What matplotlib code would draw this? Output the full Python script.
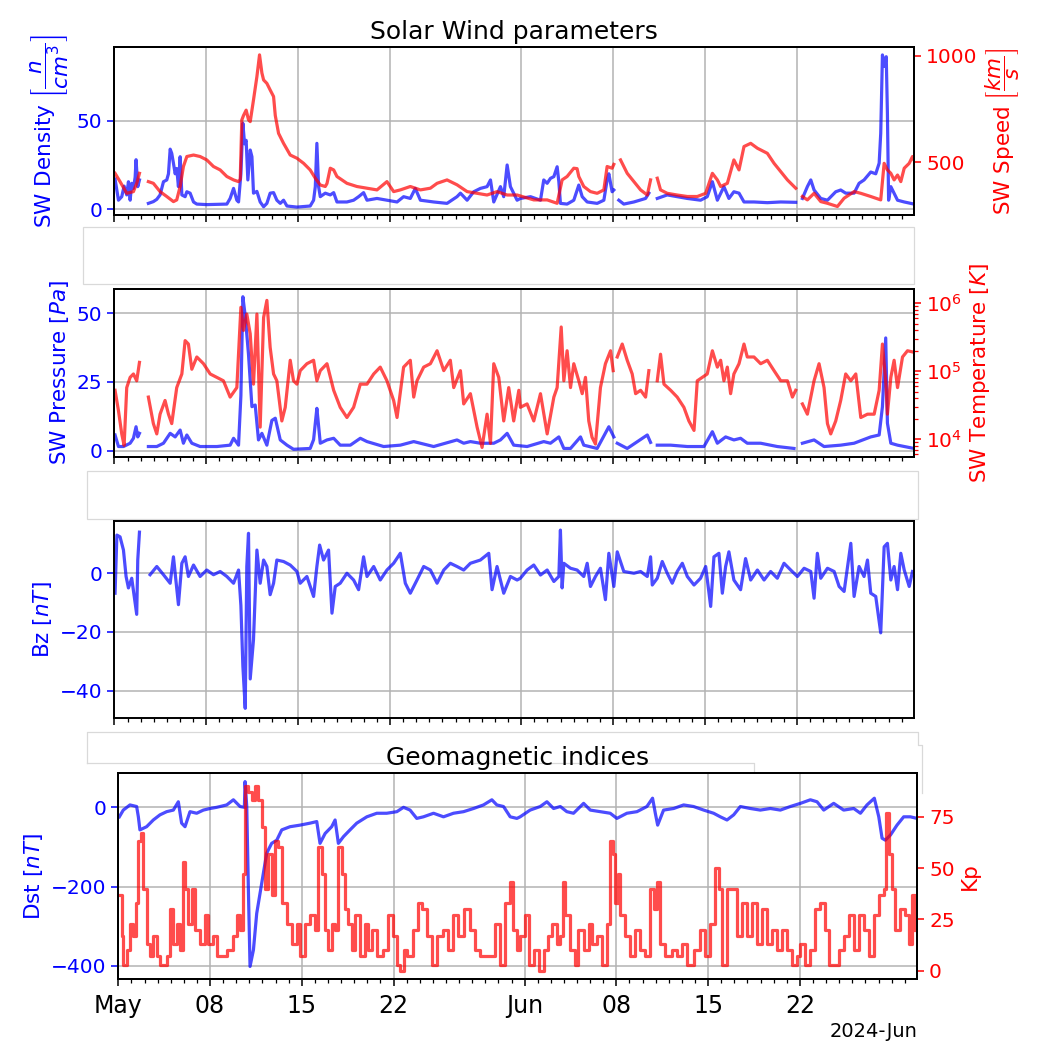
import numpy as np
import pandas as pd
import matplotlib
matplotlib.use('Agg')
import matplotlib.pyplot as plt
import matplotlib.dates as mdates
from matplotlib.lines import Line2D
from matplotlib.patches import Rectangle

# solar wind + geomagnetic summary, May-June 2024
# every series: (days since 2024-05-01, value), nan marks a data gap
nan = np.nan
T0 = pd.Timestamp('2024-05-01')
T1 = pd.Timestamp('2024-06-30 23:00')

# proton density [n/cm^3]
density = [
    (0.05, 17), (0.31, 5), (0.56, 7), (0.74, 13), (0.94, 8), (1.07, 15.5), (1.20, 5), (1.32, 14.6),
    (1.45, 11.7), (1.58, 18), (1.65, 28), (1.78, 12.7), (1.91, 16.5), (2.25, nan),
    (2.59, 3.2), (2.97, 4.2), (3.23, 5.5), (3.48, 8), (3.74, 15.5), (3.99, 16.5), (4.12, 20), (4.25, 34),
    (4.37, 31.6), (4.50, 26), (4.63, 20), (4.75, 23), (4.88, 12.7), (5.01, 29.7), (5.14, 8), (5.39, 7),
    (5.52, 9.8), (5.77, 9), (6.03, 4), (6.28, 2.8), (7.04, 2.5), (8.06, 2.7), (8.57, 2.8), (8.82, 6),
    (9.08, 11.7), (9.33, 5), (9.46, 4), (9.64, 20), (9.79, 48.7), (9.92, 37), (10.04, 39), (10.17, 16.5),
    (10.35, 33.5), (10.48, 29.7), (10.60, 9), (10.86, 10), (11.11, 4), (11.37, 1.3), (11.62, 3.2),
    (11.87, 9), (12.13, 9.3), (12.38, 5), (12.64, 3.2), (12.89, 5), (13.15, 1.7), (13.91, 1.1),
    (14.92, 1.7), (15.18, 5), (15.31, 12.7), (15.43, 37.3), (15.56, 12.7), (15.69, 7), (16.07, 9),
    (16.45, 8), (16.71, 9.3), (16.96, 4), (17.72, 4), (18.23, 5), (18.61, 7), (18.99, 9.3), (19.25, 5),
    (20.01, 6), (20.77, 5), (21.54, 4), (22.04, 7), (22.55, 6), (22.93, 11.7), (23.32, 5), (24.33, 4),
    (25.35, 3.2), (26.11, 7), (26.37, 9), (26.88, 5), (27.38, 9.8), (27.89, 11.7), (28.40, 12.7),
    (28.66, 16.5), (28.91, 4), (29.42, 12.7), (29.67, 7), (29.93, 25), (30.18, 12.7), (30.69, 5),
    (30.94, 6), (31.71, 7), (32.47, 5), (32.72, 16.5), (32.98, 14.6), (33.23, 17.4), (33.49, 18.4),
    (33.74, 24), (33.87, 15.5), (33.99, 3.2), (34.50, 2.8), (35.01, 5), (35.39, 13.6), (35.65, 7),
    (36.03, 4), (36.79, 3.2), (37.30, 5), (37.55, 16.5), (37.68, 20), (37.93, 9.8), (38.06, 10.8),
    (38.2, nan), (38.44, 5), (38.82, 2.8), (39.59, 4), (40.48, 6), (40.73, 9), (41.1, nan),
    (41.37, 6), (42.13, 8), (42.89, 7), (43.66, 6), (44.67, 5), (45.18, 7), (45.57, 15.5), (45.95, 5),
    (46.45, 12.7), (46.83, 6), (47.21, 9.8), (47.60, 9), (47.98, 4), (48.74, 4), (49.76, 3.6),
    (50.78, 4), (51.92, 3.8), (52.2, nan), (52.43, 6), (52.81, 12.7), (53.07, 16.5), (53.32, 10.8),
    (53.83, 6), (54.34, 5), (54.97, 9.8), (55.35, 10.8), (55.73, 9), (56.37, 9), (56.75, 14.6),
    (57.13, 16.5), (57.64, 21), (58.02, 20), (58.28, 26), (58.40, 43), (58.53, 87.5), (58.70, 81),
    (58.82, 86.5), (58.91, 54), (59.0, 5), (59.17, 12.7), (59.68, 5), (60.19, 4), (60.94, 2.8),
]

# bulk speed [km/s]
speed = [
    (0.05, 448), (0.43, 409), (0.94, 354), (1.45, 362), (1.70, 401), (1.91, 448), (2.25, nan),
    (2.59, 409), (2.97, 401), (3.48, 362), (3.99, 339), (4.50, 315), (4.75, 323), (5.01, 386),
    (5.26, 480), (5.52, 527), (6.03, 534), (6.53, 527), (7.04, 511), (7.55, 480), (8.06, 464),
    (8.57, 433), (9.08, 417), (9.46, 409), (9.59, 420), (9.71, 699), (9.84, 720), (10.04, 745),
    (10.22, 700), (10.35, 691), (10.60, 793), (10.86, 903), (11.06, 1005), (11.24, 920), (11.37, 887),
    (11.62, 871), (11.87, 840), (12.13, 809), (12.26, 720), (12.51, 636), (12.89, 589), (13.40, 534),
    (13.91, 519), (14.42, 495), (14.92, 464), (15.31, 425), (15.69, 393), (16.07, 386), (16.20, 400),
    (16.45, 472), (16.71, 464), (16.96, 433), (17.72, 401), (18.48, 386), (19.25, 378), (20.01, 370),
    (20.77, 409), (21.28, 362), (21.79, 370), (22.55, 386), (23.32, 370), (24.08, 378), (24.59, 401),
    (25.35, 417), (26.11, 394), (26.88, 362), (27.64, 354), (28.40, 346), (29.16, 362), (29.93, 346),
    (30.69, 346), (31.96, 323), (32.98, 323), (33.74, 307), (34.12, 417), (34.50, 433), (35.01, 472),
    (35.26, 470), (35.39, 433), (35.77, 386), (36.28, 362), (36.79, 354), (37.30, 370), (37.55, 480),
    (37.93, 472), (38.06, 490), (38.2, nan), (38.57, 511), (39.08, 448), (39.59, 409), (40.10, 370),
    (40.61, 346), (40.86, 417), (41.1, nan), (41.37, 425), (41.62, 370), (42.13, 354), (42.89, 346),
    (43.66, 339), (44.42, 339), (45.06, 354), (45.57, 448), (45.95, 417), (46.20, 386), (46.71, 401),
    (47.21, 511), (47.60, 464), (47.98, 574), (48.49, 589), (49.00, 566), (49.76, 542), (50.27, 495),
    (50.78, 456), (51.29, 417), (51.92, 378), (52.2, nan), (52.43, 339), (52.81, 323), (53.32, 354),
    (53.83, 315), (54.34, 307), (55.10, 292), (55.61, 331), (56.37, 362), (56.88, 354), (57.64, 339),
    (58.40, 323), (58.66, 495), (58.91, 464), (59.17, 448), (59.42, 417), (59.68, 440), (59.93, 409),
    (60.19, 472), (60.57, 495), (60.82, 527), (60.94, 510),
]

# dynamic pressure [Pa]
pressure = [
    (0.05, 5.7), (0.31, 1.5), (0.69, 1.5), (1.20, 2.7), (1.45, 4.5), (1.65, 8.7), (1.78, 5.0),
    (1.91, 6.3), (2.25, nan), (2.59, 1.5), (3.23, 1.5), (3.74, 2.7), (4.25, 6.3), (4.63, 5.0),
    (5.01, 7.5), (5.26, 2.7), (5.52, 5.7), (5.90, 2.7), (6.53, 1.5), (7.81, 1.5), (8.82, 2.0),
    (9.08, 4.5), (9.46, 2.0), (9.64, 20), (9.79, 56), (9.97, 49), (10.22, 35), (10.48, 16),
    (10.73, 16.6), (10.98, 3.9), (11.24, 6.3), (11.62, 2.0), (12.00, 11), (12.26, 11.8), (12.64, 3.9),
    (13.15, 2.0), (13.65, 0.5), (14.92, 0.8), (15.18, 4), (15.31, 10), (15.43, 15.4), (15.69, 2.7),
    (16.20, 3.9), (16.71, 4.5), (17.21, 2.0), (17.98, 2.0), (18.74, 4.5), (19.25, 3.3), (20.52, 1.5),
    (21.79, 2.0), (22.81, 3.3), (24.33, 1.5), (26.11, 3.9), (26.62, 2.7), (27.13, 3.3), (27.89, 2.7),
    (28.91, 2.7), (29.42, 3.9), (29.93, 6.3), (30.43, 2.0), (31.45, 1.5), (32.72, 3.3), (33.23, 2.7),
    (33.87, 5.0), (34.25, 0.8), (34.76, 0.8), (35.52, 5.0), (35.77, 2.0), (36.79, 0.8), (37.68, 8.7),
    (38.06, 5.0), (38.2, nan), (38.32, 2.7), (39.08, 0.8), (40.61, 5.7), (40.86, 3.0), (41.1, nan),
    (41.37, 2.0), (42.39, 2.0), (43.66, 1.5), (44.93, 1.5), (45.57, 6.9), (45.95, 2.7), (46.58, 5.0),
    (47.21, 3.9), (47.72, 4.5), (48.23, 2.7), (49.25, 2.7), (50.52, 1.5), (51.79, 0.8), (52.2, nan),
    (52.43, 2.7), (53.32, 3.9), (54.08, 1.5), (55.35, 2.0), (56.37, 2.7), (57.64, 5.0), (58.28, 5.7),
    (58.53, 16), (58.78, 41), (58.91, 10), (59.17, 2.7), (59.68, 2.0), (60.94, 0.8),
]

# proton temperature [K]
temperature = [
    (0.05, 52500), (0.31, 26300), (0.56, 12000), (0.74, 8130), (0.94, 57500), (1.20, 81300),
    (1.45, 91200), (1.70, 72400), (1.91, 135000), (2.25, nan), (2.59, 41700), (2.97, 17000),
    (3.23, 12000), (3.48, 23400), (3.86, 37200), (4.12, 23400), (4.37, 17000), (4.75, 57500),
    (5.14, 91200), (5.39, 282000), (5.64, 251000), (5.90, 107000), (6.28, 162000), (6.79, 129000),
    (7.30, 91200), (7.81, 81300), (8.31, 72400), (8.82, 41700), (9.33, 57500), (9.64, 871000),
    (9.84, 398000), (10.09, 692000), (10.35, 355000), (10.60, 64600), (10.86, 692000), (11.11, 15100),
    (11.37, 617000), (11.62, 1100000), (11.87, 224000), (12.13, 91200), (12.38, 72400), (12.76, 18600),
    (13.02, 29500), (13.40, 145000), (13.65, 72400), (13.91, 64600), (14.16, 102000), (14.67, 129000),
    (15.18, 145000), (15.43, 72400), (15.69, 102000), (16.20, 129000), (16.71, 52500), (17.21, 29500),
    (17.72, 20900), (18.23, 29500), (18.74, 64600), (19.25, 64600), (19.76, 91200), (20.26, 115000),
    (20.77, 72400), (21.28, 37200), (21.54, 20900), (22.04, 115000), (22.55, 145000), (22.81, 41700),
    (23.06, 72400), (23.57, 115000), (24.08, 129000), (24.59, 200000), (25.10, 102000), (25.60, 145000),
    (25.86, 57500), (26.37, 102000), (26.62, 33100), (27.13, 46800), (27.64, 15100), (28.02, 7590),
    (28.40, 23400), (28.66, 8710), (28.91, 129000), (29.29, 81300), (29.67, 18600), (30.05, 57500),
    (30.43, 18600), (30.82, 52500), (30.94, 29500), (31.45, 33100), (31.96, 18600), (32.47, 46800),
    (32.98, 12000), (33.49, 41700), (33.74, 57500), (34.05, 447000), (34.25, 72400), (34.50, 200000),
    (34.76, 57500), (35.01, 129000), (35.39, 72400), (35.65, 46800), (35.90, 81300), (36.15, 18600),
    (36.40, 10700), (36.66, 8510), (37.04, 57500), (37.42, 129000), (37.81, 200000), (38.01, 102000),
    (38.15, nan), (38.32, 162000), (38.70, 251000), (39.08, 145000), (39.46, 91200), (39.72, 46800),
    (40.10, 52500), (40.48, 41700), (40.73, 102000), (41.05, nan), (41.37, 72400), (41.62, 178000),
    (41.88, 64600), (42.39, 52500), (42.89, 41700), (43.40, 29500), (43.78, 18600), (44.17, 13500),
    (44.42, 72400), (44.80, 81300), (45.18, 91200), (45.57, 200000), (45.95, 115000), (46.20, 145000),
    (46.45, 72400), (46.71, 115000), (46.96, 46800), (47.21, 91200), (47.60, 129000), (47.98, 251000),
    (48.23, 162000), (48.74, 162000), (49.25, 129000), (49.76, 145000), (50.27, 102000), (50.78, 72400),
    (51.29, 72400), (51.67, 41700), (51.92, 52500), (52.2, nan), (52.43, 33100), (52.81, 23400),
    (53.32, 72400), (53.70, 129000), (54.08, 57500), (54.34, 17000), (54.59, 12000), (54.97, 18600),
    (55.35, 37200), (55.73, 91200), (56.12, 72400), (56.50, 91200), (56.88, 20900), (57.39, 23400),
    (57.90, 23400), (58.28, 52500), (58.53, 251000), (58.78, 72400), (58.91, 23400), (59.17, 81300),
    (59.42, 145000), (59.68, 57500), (60.06, 162000), (60.44, 200000), (60.94, 190000),
]

# IMF Bz [nT]
bz = [
    (0.05, -6.8), (0.19, 13), (0.43, 12.4), (0.69, 7.9), (0.89, -1.1), (1.07, -5), (1.32, -1.7),
    (1.58, -10), (1.70, -14), (1.78, 4.5), (1.91, 14), (2.25, nan), (2.72, -0.5), (3.23, 2.3),
    (3.74, -0.5), (4.25, -3.4), (4.50, 5.6), (4.88, -10.7), (5.14, 3.4), (5.39, 5.6), (5.64, -1.1),
    (6.03, 2.8), (6.53, -1.1), (7.04, 1.1), (7.55, -0.5), (8.06, 0.6), (8.57, -1.1), (9.08, -3.4),
    (9.46, 1.1), (9.64, -11), (9.79, -31.6), (9.97, -46), (10.09, 2.3), (10.22, 13.6), (10.35, -36),
    (10.60, -22.6), (10.86, 7.9), (11.11, -3.4), (11.37, 4.5), (11.62, 2.3), (11.87, -7.3),
    (12.13, -3.4), (12.38, 4.5), (12.89, 4.0), (13.40, 2.8), (13.91, 0.6), (14.16, -3.4),
    (14.67, -1.1), (15.18, -7.9), (15.43, 2.3), (15.64, 9.6), (15.94, 4.5), (16.32, 7.9),
    (16.58, -13.6), (16.83, -4.5), (17.21, -3.4), (17.72, 0), (18.23, -2.3), (18.61, -5.6),
    (18.99, 5.6), (19.25, -1.1), (19.76, 2.3), (20.26, -2.3), (20.77, 1.1), (21.28, 3.4), (21.79, 6.8),
    (22.17, -3.4), (22.55, -6.8), (23.06, -2.3), (23.57, 2.3), (24.08, 1.1), (24.59, -3.4),
    (25.10, 1.1), (25.60, 3.4), (26.11, 2.3), (26.62, 1.1), (27.13, 3.4), (27.89, 4.5), (28.53, 6.8),
    (28.78, -5.6), (29.16, 2.3), (29.67, -6.8), (30.18, -1.1), (30.69, -2.3), (30.94, -1.7),
    (31.45, 1.1), (31.96, 2.8), (32.47, -0.6), (32.98, 1.1), (33.49, -2.8), (33.87, -1.1),
    (33.99, 14.7), (34.12, -5), (34.25, 3.4), (34.76, 1.7), (35.26, 1.1), (35.77, -1.1), (36.03, 3.4),
    (36.28, -4.5), (36.66, -1.1), (37.04, 1.7), (37.42, -9), (37.68, 6.8), (38.06, -4.5), (38.32, 7.3),
    (38.82, 0.6), (39.59, 0), (40.10, 0.6), (40.61, -1.1), (40.86, 5.6), (40.99, -4), (41.37, -1.7),
    (41.75, 4.0), (42.13, 0), (42.51, -3.4), (42.89, 0.6), (43.28, 3.4), (43.66, -1.1), (44.17, -4),
    (44.67, -1.7), (45.06, 2.3), (45.44, -11.3), (45.69, 5.6), (46.07, 6.8), (46.33, -6.8),
    (46.58, 2.3), (46.83, 7.3), (47.21, -2.3), (47.72, -5.6), (48.10, 5.0), (48.49, -2.3), (49.00, 1.1),
    (49.51, -2.3), (50.01, 0.6), (50.52, -1.7), (51.03, 3.4), (51.54, 1.1), (52.05, -1.1), (52.56, 1.7),
    (53.07, 0.6), (53.32, -8.5), (53.57, 6.8), (53.83, -1.7), (54.34, 1.7), (54.85, 0.6), (55.23, -4.5),
    (55.61, -6.2), (56.12, 10.2), (56.37, -7.9), (56.75, 2.3), (57.13, -1.1), (57.39, 4.5),
    (57.64, -6.8), (58.02, -7.9), (58.40, -20.3), (58.66, 9), (58.91, 10.2), (59.17, -2.3),
    (59.42, 2.3), (59.68, -5.6), (59.93, 6.8), (60.19, 1.1), (60.57, -4.5), (60.82, 0.6),
]

# Dst index [nT]
dst = [
    (0.08, -24), (0.38, -7), (0.89, 6), (1.40, 2), (1.53, -24), (1.65, -57), (2.16, -49), (2.67, -32),
    (3.18, -19), (3.69, -11), (4.20, -7), (4.58, 14), (4.83, -40), (5.09, -49), (5.47, -11),
    (5.98, -15), (6.49, -7), (7.00, -3), (7.51, 0), (8.27, 6), (8.78, 19), (9.29, 2), (9.62, 0),
    (9.67, 65), (9.80, 2), (9.92, -200), (10.05, -402), (10.31, -360), (10.56, -268), (10.94, -192),
    (11.32, -116), (11.70, -91), (12.09, -83), (12.47, -57), (13.10, -49), (13.87, -45), (14.63, -40),
    (15.14, -36), (15.39, -91), (15.78, -66), (16.28, -49), (16.54, -32), (16.79, -91), (17.18, -74),
    (17.68, -57), (18.19, -40), (18.96, -24), (19.72, -15), (20.48, -15), (21.25, -11), (21.76, 0),
    (22.26, -7), (22.77, -28), (23.28, -24), (24.05, -15), (24.81, -24), (25.57, -15), (26.34, -11),
    (27.10, -3), (27.86, 6), (28.50, 19), (28.88, 6), (29.39, 2), (29.90, -24), (30.41, -28),
    (30.66, -24), (31.42, -7), (32.19, 2), (32.70, 14), (33.21, -3), (33.72, 2), (34.22, -11),
    (34.73, -15), (35.50, 10), (36.01, -7), (36.77, -11), (37.53, -15), (38.04, -28), (38.80, -15),
    (39.57, -11), (40.33, 2), (40.76, 23), (40.97, -15), (41.15, -45), (41.60, -7), (42.37, -3),
    (43.13, 6), (43.89, 2), (44.66, -7), (45.42, -15), (45.93, -24), (46.44, -32), (46.95, -19),
    (47.46, 2), (48.22, -3), (48.98, -7), (49.75, -3), (50.51, -7), (51.27, 2), (52.04, 10),
    (52.80, 19), (53.31, 14), (53.82, -7), (54.58, 10), (55.34, -7), (56.11, -3), (56.62, -15),
    (57.12, 6), (57.68, 23), (58.02, -24), (58.27, -78), (58.52, -83), (58.91, -70), (59.41, -45),
    (59.92, -24), (60.43, -24), (60.94, -28),
]

# Kp index (x10)
kp = [
    (0.08, 37), (0.26, 17), (0.38, 3), (0.64, 10), (0.89, 23), (1.15, 17), (1.35, 33), (1.53, 63),
    (1.70, 67), (1.91, 40), (2.16, 13), (2.42, 7), (2.67, 17), (2.93, 7), (3.18, 3), (3.69, 7),
    (3.94, 30), (4.20, 13), (4.45, 23), (4.71, 10), (4.96, 53), (5.09, 40), (5.34, 23), (5.60, 40),
    (5.85, 20), (6.23, 13), (6.62, 27), (6.87, 13), (7.25, 17), (7.51, 7), (8.27, 10), (8.78, 17),
    (9.03, 27), (9.29, 20), (9.49, 47), (9.67, 90), (9.92, 87), (10.18, 83), (10.43, 90), (10.69, 83),
    (10.94, 70), (11.20, 40), (11.45, 57), (11.70, 37), (11.96, 63), (12.21, 60), (12.47, 33),
    (12.85, 23), (13.23, 13), (13.61, 23), (13.87, 7), (14.25, 23), (14.63, 27), (15.01, 20),
    (15.27, 60), (15.52, 47), (15.78, 20), (16.03, 10), (16.28, 23), (16.54, 20), (16.79, 60),
    (17.05, 47), (17.30, 30), (17.56, 23), (17.81, 10), (18.07, 27), (18.45, 7), (18.83, 23),
    (19.08, 10), (19.34, 20), (19.72, 7), (20.23, 10), (20.61, 27), (20.99, 17), (21.25, 3),
    (21.50, 0), (21.76, 10), (22.01, 7), (22.52, 20), (22.90, 33), (23.16, 30), (23.54, 17),
    (23.92, 3), (24.30, 17), (24.81, 20), (25.19, 10), (25.57, 27), (25.95, 17), (26.34, 30),
    (26.84, 20), (27.23, 10), (27.61, 7), (28.37, 7), (28.75, 23), (29.13, 3), (29.52, 33),
    (29.90, 43), (30.15, 20), (30.41, 10), (30.66, 17), (31.04, 27), (31.30, 3), (31.68, 10),
    (32.06, 0), (32.44, 10), (32.82, 17), (33.08, 23), (33.46, 13), (33.72, 17), (33.92, 43),
    (34.10, 27), (34.48, 10), (34.86, 3), (35.11, 20), (35.50, 10), (35.88, 23), (36.13, 13),
    (36.51, 17), (36.89, 3), (37.28, 23), (37.53, 63), (37.73, 57), (37.91, 33), (38.09, 47),
    (38.30, 27), (38.68, 17), (39.06, 7), (39.44, 20), (39.82, 10), (40.20, 7), (40.59, 40),
    (40.84, 30), (41.09, 43), (41.35, 13), (41.73, 7), (42.24, 10), (42.62, 7), (43.00, 13),
    (43.38, 3), (43.89, 10), (44.40, 20), (44.78, 7), (45.17, 23), (45.55, 50), (45.80, 40),
    (46.06, 3), (46.44, 40), (46.82, 40), (47.20, 17), (47.58, 33), (47.96, 17), (48.35, 33),
    (48.73, 13), (49.11, 30), (49.49, 13), (49.87, 20), (50.25, 10), (50.64, 20), (51.02, 10),
    (51.40, 3), (51.78, 7), (52.04, 13), (52.42, 3), (52.80, 10), (53.18, 30), (53.56, 33),
    (53.94, 20), (54.20, 3), (54.58, 3), (54.96, 10), (55.34, 17), (55.73, 27), (56.11, 10),
    (56.49, 27), (56.87, 20), (57.25, 7), (57.63, 27), (58.02, 37), (58.40, 40), (58.58, 77),
    (58.78, 57), (59.03, 40), (59.29, 20), (59.67, 30), (60.05, 27), (60.31, 13), (60.56, 37),
    (60.81, 20),
]


def series(points):
    days, vals = zip(*points)
    t = T0 + pd.to_timedelta(np.array(days), unit='D')
    return t, np.array(vals, dtype=float)


W, H = 1041, 1045
fig = plt.figure(figsize=(W / 100, H / 100), dpi=100)


# pixel box -> figure fraction
def place(x0, x1, top, bottom):
    return [x0 / W, 1 - bottom / H, (x1 - x0) / W, (bottom - top) / H]


def to_fig(pts):
    xs = [p[0] / W for p in pts]
    ys = [1 - p[1] / H for p in pts]
    return xs, ys


# empty legend frames sitting between the panels
def frame(x0, top, x1, bottom):
    fig.add_artist(Rectangle((x0 / W, 1 - bottom / H), (x1 - x0) / W, (bottom - top) / H,
                             transform=fig.transFigure, fc='white', ec='0.85', lw=0.9, zorder=-1))


def outline(pts):
    xs, ys = to_fig(pts)
    fig.add_artist(Line2D(xs, ys, transform=fig.transFigure, color='0.85', lw=0.9, zorder=-1))


frame(82.7, 226.7, 913.7, 284.3)
frame(87.3, 470.7, 918.3, 519.3)
outline([(87.3, 763.3), (87.3, 732.3), (918.3, 732.3), (918.3, 745), (922.3, 745), (922.3, 793.3)])
outline([(87.3, 763.3), (754.3, 763.3), (754.3, 773.3)])

ax1 = fig.add_axes(place(114.4, 914.3, 47, 215))
ax2 = fig.add_axes(place(114.4, 914.3, 289.3, 456.7), sharex=ax1)
ax3 = fig.add_axes(place(114.4, 914.3, 520.7, 718.3), sharex=ax1)
ax4 = fig.add_axes(place(118.3, 917.3, 773.3, 979), sharex=ax1)

BLUE = 'b'
RED = 'r'
line_kw = dict(lw=2.3, alpha=0.7)
TICK_FS = 14.5
LABEL_FS = 15.5


def style(ax, color, side='left'):
    for sp in ax.spines.values():
        sp.set_linewidth(1.4)
    ax.tick_params(axis='y', which='both', colors=color, labelsize=TICK_FS)
    ax.tick_params(which='major', length=5, width=1.1)
    ax.tick_params(which='minor', length=3, width=0.9)
    ax.yaxis.label.set_color(color)
    ax.yaxis.label.set_fontsize(LABEL_FS)


def twin(ax):
    axr = ax.twinx()
    style(axr, RED)
    return axr


# panel 1: density + speed
t, v = series(density)
ax1.plot(t, v, color=BLUE, **line_kw)
ax1.set_ylim(-3.4, 92)
ax1.set_yticks([0, 50])
ax1.set_ylabel(r'SW Density $\left[\dfrac{n}{cm^3}\right]$')
ax1.set_title('Solar Wind parameters', fontsize=18)
ax1r = twin(ax1)
t, v = series(speed)
ax1r.plot(t, v, color=RED, **line_kw)
ax1r.set_ylim(252, 1042)
ax1r.set_yticks([500, 1000])
ax1r.set_ylabel(r'SW Speed $\left[\dfrac{km}{s}\right]$')

# panel 2: pressure + temperature
t, v = series(pressure)
ax2.plot(t, v, color=BLUE, **line_kw)
ax2.set_ylim(-2.2, 58.7)
ax2.set_yticks([0, 25, 50])
ax2.set_ylabel(r'SW Pressure $[Pa]$')
ax2r = twin(ax2)
t, v = series(temperature)
ax2r.plot(t, v, color=RED, **line_kw)
ax2r.set_yscale('log')
ax2r.set_ylim(5.55e3, 1.6e6)
ax2r.set_ylabel(r'SW Temperature $[K]$')

# panel 3: Bz
t, v = series(bz)
ax3.plot(t, v, color=BLUE, **line_kw)
ax3.set_ylim(-49.4, 17.9)
ax3.set_yticks([-40, -20, 0])
ax3.set_ylabel(r'Bz $[nT]$')

# panel 4: Dst + Kp
t, v = series(dst)
ax4.plot(t, v, color=BLUE, **line_kw)
ax4.set_ylim(-433.6, 85.9)
ax4.set_yticks([-400, -200, 0])
ax4.set_ylabel(r'Dst $[nT]$')
ax4.set_title('Geomagnetic indices', fontsize=18)
ax4r = twin(ax4)
t, v = series(kp)
ax4r.plot(t, v, color=RED, drawstyle='steps-post', **line_kw)
ax4r.set_ylim(-4.0, 96.1)
ax4r.set_yticks([0, 25, 50, 75])
ax4r.set_ylabel('Kp')

for ax in (ax1, ax2, ax3, ax4):
    style(ax, BLUE)
    ax.grid(True, color='0.7', lw=1.1)

locator = mdates.DayLocator(bymonthday=[1, 8, 15, 22])
ax4.xaxis.set_major_locator(locator)
ax4.xaxis.set_minor_locator(mdates.DayLocator())
ax4.xaxis.set_major_formatter(mdates.ConciseDateFormatter(locator))
ax4.set_xlim(T0, T1)
ax4.tick_params(axis='x', labelsize=17, pad=6)
ax4.xaxis.get_offset_text().set_fontsize(14)
for ax in (ax1, ax2, ax3):
    ax.tick_params(axis='x', labelbottom=False)

fig.savefig('out.png', dpi=100)
